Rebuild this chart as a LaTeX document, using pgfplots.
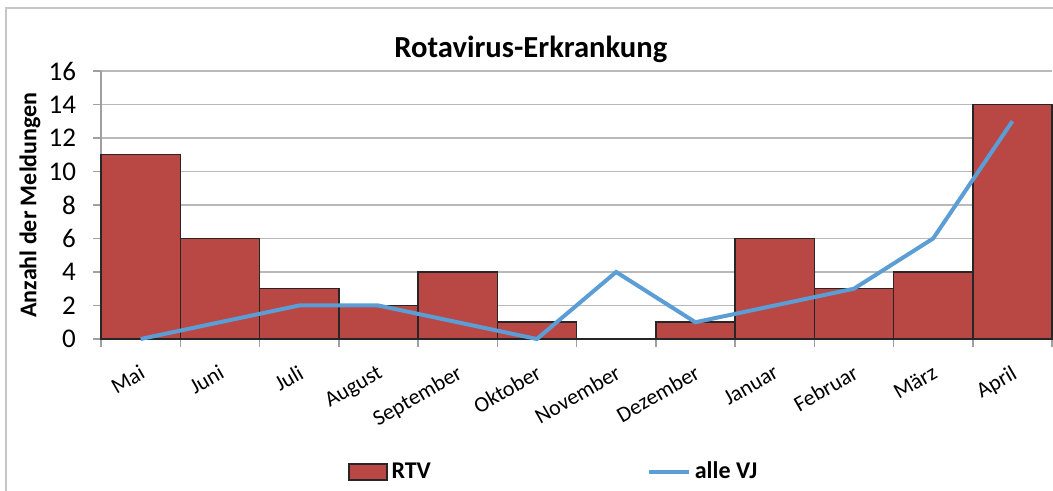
\documentclass[border=0pt]{standalone}
\usepackage{fontspec}
\setmainfont{Carlito}
\usepackage{pgfplots}
\pgfplotsset{compat=1.18}
\definecolor{rtv}{RGB}{185,71,67}
\definecolor{vj}{RGB}{91,157,213}
\definecolor{gridgray}{RGB}{185,185,185}
\definecolor{axgray}{RGB}{160,160,160}
\pgfplotsset{
    barlegend/.style={legend image code/.code={\draw[##1] (0pt,-4pt) rectangle (19pt,4pt);}},
    linelegend/.style={legend image code/.code={\draw[##1] (0pt,0pt) -- (20pt,0pt);}},
}

\begin{document}
\begin{tikzpicture}[x=1pt,y=1pt]
% outer chart frame
\draw[gray!45, line width=0.7pt] (3,-10) rectangle (540,241.5);
\begin{axis}[
    at={(50.5pt,76pt)}, anchor=south west,
    scale only axis,
    width=475.5pt, height=134pt,
    xmin=-0.5, xmax=11.5,
    ymin=0, ymax=16,
    ytick={0,2,...,16},
    xtick={0,...,11},
    xticklabels={Mai,Juni,Juli,August,September,Oktober,November,Dezember,Januar,Februar,März,April},
    minor xtick={-0.5,0.5,...,11.5},
    axis lines=left,
    axis line style={-, draw=axgray, line width=0.75pt},
    tick align=outside,
    major tick length=4pt, minor tick length=4pt,
    major x tick style={draw=none},
    minor x tick style={draw=axgray, line width=0.75pt},
    y tick style={draw=axgray, line width=0.75pt},
    ymajorgrids,
    grid style={gridgray, line width=0.75pt},
    /pgf/number format/assume math mode=true,
    yticklabel shift=5pt,
    y tick label style={font=\fontsize{13.5}{15}\selectfont},
    xticklabel shift=7pt,
    x tick label style={xshift=-0.5pt, rotate=30, anchor=north east, inner sep=1pt,
        font=\fontsize{11}{13}\selectfont},
    title={Rotavirus-Erkrankung},
    title style={at={(0.452,1)}, anchor=center, yshift=5pt, font=\bfseries\fontsize{15.3}{17}\selectfont},
    ylabel={Anzahl der Meldungen},
    ylabel style={at={(axis description cs:0,0.5)}, anchor=center, yshift=35.5pt,
        font=\bfseries\fontsize{12}{14}\selectfont},
    legend style={at={(axis description cs:0.477,-0.496)}, anchor=center, draw=none, fill=none,
        legend columns=2, font=\bfseries\fontsize{12}{14}\selectfont,
        /tikz/every even column/.append style={column sep=106pt}},
    clip=false,
]
\addplot[ybar, bar width=1, bar shift=0pt, fill=rtv, draw=black!85, line width=0.75pt, barlegend]
coordinates {
    (0,11) (1,6) (2,3) (3,2) (4,4) (5,1) (6,0) (7,1) (8,6) (9,3) (10,4) (11,14)
};
\addplot[vj, line width=2pt, mark=none, linelegend]
coordinates {
    (0,0) (1,1) (2,2) (3,2) (4,1) (5,0) (6,4) (7,1) (8,2) (9,3) (10,6) (11,13)
};
\legend{RTV, alle VJ}
\end{axis}
\pgfresetboundingbox
\useasboundingbox (0,0) rectangle (526.5,245.5);
\end{tikzpicture}
\end{document}
